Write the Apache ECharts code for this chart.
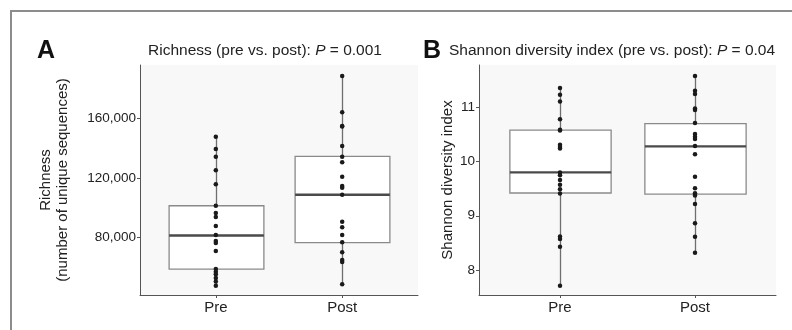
<!DOCTYPE html>
<html><head><meta charset="utf-8">
<script src="https://cdn.jsdelivr.net/npm/echarts@6/dist/echarts.min.js"></script>
<style>html,body{margin:0;padding:0;background:#fff}#c{width:792px;height:330px}</style>
</head><body><div id="c"></div>
<script>
// ---- data ----
const categories = ['Pre', 'Post'];
const richnessPre = [147670, 139430, 134270, 125160, 115780, 101440, 96550, 93870, 87840, 81810, 77790, 76450, 71090, 59030, 57220, 55480, 53000, 50650, 47840];
const richnessPost = [188340, 164020, 154840, 154500, 141440, 134270, 130520, 120870, 114640, 113500, 108810, 90720, 86970, 81810, 76920, 70220, 65060, 63720, 48780];
// [min, q1, median, q3, max]
const richnessBoxPre = [47840, 59000, 81500, 101400, 147670];
const richnessBoxPost = [48780, 76650, 108800, 134500, 188340];
const shannonPre = [11.354, 11.23, 11.107, 10.78, 10.585, 10.57, 10.308, 10.27, 10.24, 9.80, 9.745, 9.66, 9.57, 9.49, 9.41, 8.616, 8.57, 8.43, 7.71];
const shannonPost = [11.578, 11.306, 11.245, 10.978, 10.95, 10.71, 10.507, 10.458, 10.415, 10.286, 10.133, 9.72, 9.506, 9.413, 9.373, 9.216, 8.86, 8.613, 8.32];
const shannonBoxPre = [7.71, 9.42, 9.80, 10.58, 11.354];
const shannonBoxPost = [8.32, 9.40, 10.28, 10.70, 11.578];
const richnessTicks = [80000, 120000, 160000];
const shannonTicks = [8, 9, 10, 11];
const titleA = 'Richness (pre vs. post): ';
const pA = '0.001';
const titleB = 'Shannon diversity index (pre vs. post): ';
const pB = '0.04';

const FONT = "'Liberation Sans', Arial, sans-serif";
const chart = echarts.init(document.getElementById('c'), null, {renderer: 'canvas'});

function renderBox(params, api) {
  const x = api.value(0);
  const pMin = api.coord([x, api.value(1)]);
  const pQ1 = api.coord([x, api.value(2)]);
  const pMd = api.coord([x, api.value(3)]);
  const pQ3 = api.coord([x, api.value(4)]);
  const pMx = api.coord([x, api.value(5)]);
  const half = api.size([0.75, 0])[0] / 2;
  const cx = Math.round(pMin[0]) + 0.5;
  return {
    type: 'group',
    children: [
      {type: 'line', shape: {x1: cx, y1: pMx[1], x2: cx, y2: pQ3[1]}, style: {stroke: '#6e6e6e', lineWidth: 1.3}},
      {type: 'line', shape: {x1: cx, y1: pQ1[1], x2: cx, y2: pMin[1]}, style: {stroke: '#6e6e6e', lineWidth: 1.3}},
      {type: 'rect', shape: {x: cx - half, y: pQ3[1], width: 2 * half, height: pQ1[1] - pQ3[1]}, style: {fill: '#ffffff', stroke: '#8a8a8a', lineWidth: 1.3}},
      {type: 'line', shape: {x1: cx - half, y1: pMd[1], x2: cx + half, y2: pMd[1]}, style: {stroke: '#4a4a4a', lineWidth: 2.4}}
    ]
  };
}

function xAxisFor(gi) {
  return {
    type: 'value', gridIndex: gi, min: 0.4, max: 2.6,
    axisLine: {show: true, onZero: false, lineStyle: {color: '#555', width: 1}},
    axisTick: {show: true, customValues: [1, 2], length: 3, lineStyle: {color: '#555'}},
    axisLabel: {customValues: [1, 2], formatter: v => categories[Math.round(v) - 1], color: '#222', fontSize: 15, fontFamily: FONT, margin: 5},
    splitLine: {show: false}
  };
}

const option = {
  animation: false,
  backgroundColor: '#ffffff',
  grid: [
    {left: 140, top: 65, width: 278, height: 230, show: true, backgroundColor: '#f8f8f8', borderWidth: 0},
    {left: 479, top: 65, width: 297, height: 230, show: true, backgroundColor: '#f8f8f8', borderWidth: 0}
  ],
  xAxis: [xAxisFor(0), xAxisFor(1)],
  yAxis: [
    {
      type: 'value', gridIndex: 0, min: 41600, max: 195700,
      name: 'Richness\n(number of unique sequences)', nameLocation: 'middle', nameRotate: 90, nameGap: 69,
      nameTextStyle: {color: '#222', fontSize: 15, fontFamily: FONT, lineHeight: 17},
      axisLine: {show: true, lineStyle: {color: '#555', width: 1}},
      axisTick: {show: true, customValues: richnessTicks, length: 3, lineStyle: {color: '#555'}},
      axisLabel: {customValues: richnessTicks, formatter: v => v.toLocaleString('en-US'), color: '#222', fontSize: 13.5, fontFamily: FONT, margin: 4},
      splitLine: {show: false}
    },
    {
      type: 'value', gridIndex: 1, min: 7.539, max: 11.78,
      name: 'Shannon diversity index', nameLocation: 'middle', nameRotate: 90, nameGap: 24,
      nameTextStyle: {color: '#222', fontSize: 15, fontFamily: FONT},
      axisLine: {show: true, lineStyle: {color: '#555', width: 1}},
      axisTick: {show: true, customValues: shannonTicks, length: 3, lineStyle: {color: '#555'}},
      axisLabel: {customValues: shannonTicks, formatter: v => String(Math.round(v)), color: '#222', fontSize: 13.5, fontFamily: FONT, margin: 4},
      splitLine: {show: false}
    }
  ],
  series: [
    {type: 'custom', xAxisIndex: 0, yAxisIndex: 0, renderItem: renderBox, encode: {x: 0, y: [1, 2, 3, 4, 5]},
     data: [[1].concat(richnessBoxPre), [2].concat(richnessBoxPost)], z: 2, silent: true},
    {type: 'custom', xAxisIndex: 1, yAxisIndex: 1, renderItem: renderBox, encode: {x: 0, y: [1, 2, 3, 4, 5]},
     data: [[1].concat(shannonBoxPre), [2].concat(shannonBoxPost)], z: 2, silent: true},
    {type: 'scatter', xAxisIndex: 0, yAxisIndex: 0, symbolSize: 4.5, itemStyle: {color: '#1a1a1a', opacity: 1}, z: 5,
     data: richnessPre.map(v => [1, v]).concat(richnessPost.map(v => [2, v]))},
    {type: 'scatter', xAxisIndex: 1, yAxisIndex: 1, symbolSize: 4.5, itemStyle: {color: '#1a1a1a', opacity: 1}, z: 5,
     data: shannonPre.map(v => [1, v]).concat(shannonPost.map(v => [2, v]))}
  ],
  graphic: [
    {type: 'rect', shape: {x: 11, y: 11, width: 820, height: 400}, style: {fill: 'none', stroke: '#8c8c8c', lineWidth: 2}, silent: true},
    {type: 'text', x: 37, y: 51, style: {text: 'A', fontSize: 25, fontWeight: 'bold', fontFamily: FONT, fill: '#111', verticalAlign: 'middle'}},
    {type: 'text', x: 423, y: 51, style: {text: 'B', fontSize: 25, fontWeight: 'bold', fontFamily: FONT, fill: '#111', verticalAlign: 'middle'}},
    {type: 'text', x: 265, y: 51, style: {
      text: '{n|' + titleA + '}{i|P}{n| = ' + pA + '}', align: 'center', verticalAlign: 'middle',
      rich: {n: {fontSize: 15.5, fontFamily: FONT, fill: '#222'}, i: {fontSize: 15.5, fontFamily: FONT, fontStyle: 'italic', fill: '#222'}}}},
    {type: 'text', x: 449, y: 51, style: {
      text: '{n|' + titleB + '}{i|P}{n| = ' + pB + '}', align: 'left', verticalAlign: 'middle',
      rich: {n: {fontSize: 15.5, fontFamily: FONT, fill: '#222'}, i: {fontSize: 15.5, fontFamily: FONT, fontStyle: 'italic', fill: '#222'}}}}
  ]
};
chart.setOption(option);
</script>
</body></html>
